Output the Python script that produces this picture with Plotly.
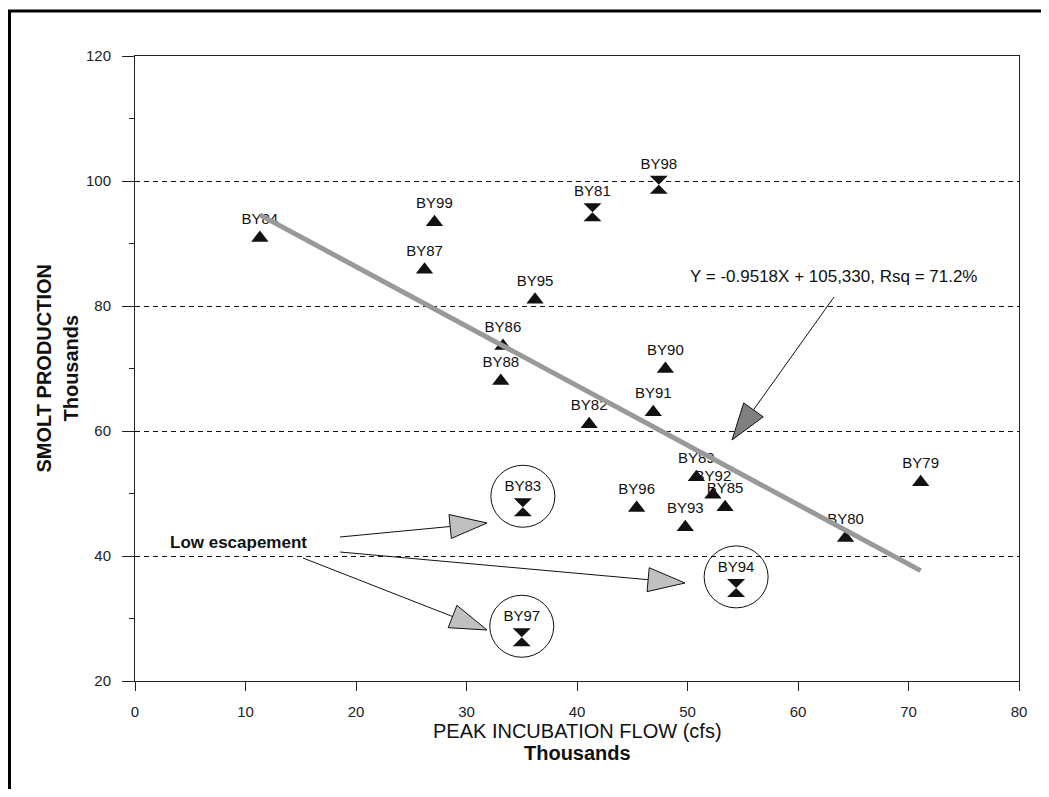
import math
import plotly.graph_objects as go

# ---------------- data (thousands) ----------------
labels = ["BY79", "BY80", "BY81", "BY82", "BY83", "BY84", "BY85", "BY86", "BY87", "BY88",
          "BY89", "BY90", "BY91", "BY92", "BY93", "BY94", "BY95", "BY96", "BY97", "BY98", "BY99"]
flow = [71.1, 64.3, 41.4, 41.1, 35.1, 11.3, 53.4, 33.3, 26.2, 33.1,
        50.8, 48.0, 46.9, 52.3, 49.8, 54.4, 36.2, 45.4, 35.0, 47.4, 27.1]
smolt = [51.8, 42.9, 95.0, 61.1, 47.8, 90.9, 47.8, 73.6, 85.8, 68.0,
         52.6, 69.9, 63.0, 49.8, 44.6, 34.9, 81.0, 47.7, 27.0, 99.4, 93.4]
hourglass_years = ["BY81", "BY83", "BY94", "BY97", "BY98"]
circled_years = ["BY83", "BY94", "BY97"]

reg_slope = -0.9518
reg_intercept = 105.33
eq_text = "Y = -0.9518X + 105,330, Rsq = 71.2%"
low_text = "Low escapement"

x_title = "PEAK INCUBATION FLOW (cfs)"
y_title = "SMOLT PRODUCTION"
unit_title = "Thousands"

x_range = [0, 80]
y_range = [20, 120]

# ---------------- layout geometry ----------------
OFF = 8                      # default page body margin
W, H = 1049 - 2 * OFF, 797 - 2 * OFF
PL, PT, PR, PB = 135, 56, 1019, 681   # plot area in page pixels
ML, MT = PL - OFF, PT - OFF
MR = W - (PR - OFF)
MB = H - (PB - OFF)
PW = PR - PL
PH = PB - PT
PX_X = PW / (x_range[1] - x_range[0])
PX_Y = PH / (y_range[1] - y_range[0])


def dx(px):
    return x_range[0] + (px - PL) / PX_X


def dy(py):
    return y_range[1] - (py - PT) / PX_Y


def paper_x(px):
    return (px - PL) / PW


def paper_y(py):
    return (PB - py) / PH


FONT = "Arial, 'Liberation Sans', sans-serif"

tri_x = [f for f, l in zip(flow, labels) if l not in hourglass_years]
tri_y = [s for s, l in zip(smolt, labels) if l not in hourglass_years]
tri_l = [l for l in labels if l not in hourglass_years]
hg_x = [f for f, l in zip(flow, labels) if l in hourglass_years]
hg_y = [s for s, l in zip(smolt, labels) if l in hourglass_years]
hg_l = [l for l in labels if l in hourglass_years]

fig = go.Figure()

fig.add_trace(go.Scatter(
    x=tri_x, y=tri_y, mode="markers+text", text=tri_l, textposition="top center",
    textfont=dict(family=FONT, size=15, color="#111"),
    marker=dict(symbol="triangle-up", size=15, color="#111"),
    hoverinfo="skip", showlegend=False))

fig.add_trace(go.Scatter(
    x=hg_x, y=hg_y, mode="markers+text", text=hg_l, textposition="top center",
    textfont=dict(family=FONT, size=15, color="#111"),
    marker=dict(symbol="hourglass", size=18, color="#111"),
    hoverinfo="skip", showlegend=False))

# regression line over the data span
xmin, xmax = min(flow), max(flow)
fig.add_trace(go.Scatter(
    x=[xmin, xmax], y=[reg_slope * xmin + reg_intercept, reg_slope * xmax + reg_intercept],
    mode="lines", line=dict(color="#999999", width=5),
    hoverinfo="skip", showlegend=False))

shapes = []

# circles around low-escapement points
for f, s, l in zip(flow, smolt, labels):
    if l in circled_years:
        shapes.append(dict(type="circle", xref="x", yref="y", xsizemode="pixel", ysizemode="pixel",
                           xanchor=f, yanchor=s, x0=-32, x1=32, y0=-20, y1=42,
                           line=dict(color="#111", width=1)))


def arrow(tail, tip, fill, length=37, half=12):
    # tail/tip in data coordinates, head size in pixels
    dxp = (tip[0] - tail[0]) * PX_X
    dyp = (tip[1] - tail[1]) * PX_Y
    d = math.hypot(dxp, dyp)
    ux, uy = dxp / d, dyp / d
    bx, by = -ux * length, -uy * length
    nx, ny = -uy * half, ux * half
    c1 = (tip[0] + (bx + nx) / PX_X, tip[1] + (by + ny) / PX_Y)
    c2 = (tip[0] + (bx - nx) / PX_X, tip[1] + (by - ny) / PX_Y)
    base = (tip[0] + bx / PX_X, tip[1] + by / PX_Y)
    shapes.append(dict(type="line", xref="x", yref="y", x0=tail[0], y0=tail[1], x1=base[0], y1=base[1],
                       line=dict(color="#111", width=1)))
    path = f"M {tip[0]},{tip[1]} L {c1[0]},{c1[1]} L {c2[0]},{c2[1]} Z"
    shapes.append(dict(type="path", xref="x", yref="y", path=path, fillcolor=fill,
                       line=dict(color="#111", width=1)))


# annotation arrows (page pixel positions -> data coordinates)
arrow((dx(340), dy(537)), (dx(487), dy(523)), "#c0c0c0")
arrow((dx(340), dy(552)), (dx(685), dy(583)), "#c0c0c0")
arrow((dx(303), dy(558)), (dx(487), dy(630)), "#c0c0c0")
arrow((dx(834), dy(297)), (dx(732), dy(440)), "#808080")

# outer thick frame (partially visible)
shapes.append(dict(type="rect", xref="paper", yref="paper",
                   x0=paper_x(9.5), x1=1.5, y0=-0.5, y1=paper_y(11),
                   line=dict(color="#000", width=3), layer="above"))

C = dict(xanchor="center", yanchor="middle", showarrow=False)
annotations = [
    dict(x=dx(833), y=dy(276), xref="x", yref="y",
         text=eq_text, font=dict(family=FONT, size=17, color="#111"), **C),
    dict(x=dx(238), y=dy(542), xref="x", yref="y",
         text="<b>" + low_text + "</b>", font=dict(family=FONT, size=17, color="#111"), **C),
    # x axis titles
    dict(x=0.5, y=paper_y(731), xref="paper", yref="paper", text=x_title,
         font=dict(family=FONT, size=20, color="#111"), **C),
    dict(x=0.5, y=paper_y(753), xref="paper", yref="paper", text="<b>" + unit_title + "</b>",
         font=dict(family=FONT, size=20, color="#111"), **C),
    # y axis titles
    dict(x=paper_x(43), y=0.5, xref="paper", yref="paper", text="<b>" + y_title + "</b>", textangle=-90,
         font=dict(family=FONT, size=20, color="#111"), **C),
    dict(x=paper_x(70), y=0.5, xref="paper", yref="paper", text="<b>" + unit_title + "</b>", textangle=-90,
         font=dict(family=FONT, size=20, color="#111"), **C),
]

fig.update_layout(
    width=W, height=H,
    margin=dict(l=ML, r=MR, t=MT, b=MB, pad=0),
    paper_bgcolor="white", plot_bgcolor="white",
    shapes=shapes, annotations=annotations,
    xaxis=dict(range=x_range, dtick=10, tick0=0, showgrid=False, zeroline=False,
               showline=True, linecolor="#222", linewidth=1, mirror=True,
               ticks="outside", ticklen=9, tickcolor="#222",
               tickfont=dict(family=FONT, size=15, color="#222"), ticklabelstandoff=8),
    yaxis=dict(range=y_range, dtick=20, tick0=20, showgrid=True, gridcolor="#111", griddash="5px,4px",
               gridwidth=1, zeroline=False,
               showline=True, linecolor="#222", linewidth=1, mirror=True,
               ticks="outside", ticklen=12, tickcolor="#222",
               minor=dict(ticks="outside", ticklen=5, dtick=10, tickcolor="#222", showgrid=False),
               tickfont=dict(family=FONT, size=15, color="#222"), ticklabelstandoff=8),
)

fig.write_html("out.html")
